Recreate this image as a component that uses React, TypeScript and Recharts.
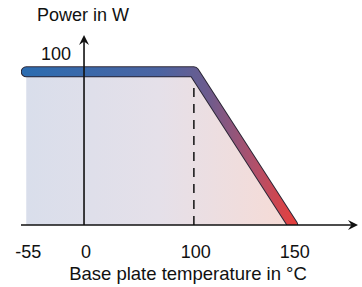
import React from 'react';
import { ComposedChart, Area, Line, XAxis, YAxis, ReferenceLine } from 'recharts';

// Data
const temperatures = [-55, 100, 150];
const powerValues = [100, 100, 0];
const xTickValues = [-55, 0, 100, 150];
const yLabelValue = 100;
const xTitle = 'Base plate temperature in °C';
const yTitle = 'Power in W';

const data = temperatures.map((t, i) => ({ t, p: powerValues[i] }));

// Segmented (schematic) x scale: the axis is compressed below the knee and
// stretched above it, like the original drawing.
const SEG_KNOTS = [-60, 0, 100, 183];
const SEG_FRACS = [0, 0.187, 0.513, 1];

function makeSegScale(dom0?: number[], rng0?: number[]): any {
  let dom = dom0 ? dom0.slice() : [SEG_KNOTS[0], SEG_KNOTS[SEG_KNOTS.length - 1]];
  let rng = rng0 ? rng0.slice() : [0, 1];
  const scale: any = (v: number) => {
    const k = SEG_KNOTS;
    let i = 0;
    while (i < k.length - 2 && v > k[i + 1]) i++;
    const t = (v - k[i]) / (k[i + 1] - k[i]);
    const f = SEG_FRACS[i] + t * (SEG_FRACS[i + 1] - SEG_FRACS[i]);
    return rng[0] + f * (rng[1] - rng[0]);
  };
  scale.domain = (d?: number[]) => {
    if (d === undefined) return dom.slice();
    dom = d.slice();
    return scale;
  };
  scale.range = (r?: number[]) => {
    if (r === undefined) return rng.slice();
    rng = r.slice();
    return scale;
  };
  scale.copy = () => makeSegScale(dom, rng);
  scale.ticks = () => xTickValues.slice();
  scale.tickFormat = () => (v: number) => String(v);
  return scale;
}
const segScale = makeSegScale();

const FONT = '"Liberation Sans", Arial, Helvetica, sans-serif';

const XTick = (props: any) => {
  const { x, y, payload } = props;
  return (
    <text x={x + 2} y={y + 33} textAnchor="middle" fontSize={18} fontFamily={FONT} fill="#111">
      {payload.value}
    </text>
  );
};

const ArrowX = (props: any) => {
  const { x1, x2, y1 } = props;
  const xs = Math.min(x1, x2);
  const xe = Math.max(x1, x2);
  return (
    <g>
      <line x1={xs} y1={y1} x2={xe - 4} y2={y1} stroke="#111" strokeWidth={1.6} />
      <path d={`M${xe},${y1} L${xe - 10},${y1 - 5} L${xe - 6.5},${y1} L${xe - 10},${y1 + 5} Z`} fill="#111" />
    </g>
  );
};

const ArrowY = (props: any) => {
  const { x1, y1, y2 } = props;
  const ytop = Math.min(y1, y2);
  const ybot = Math.max(y1, y2);
  return (
    <g>
      <line x1={x1} y1={ybot} x2={x1} y2={ytop + 4} stroke="#111" strokeWidth={1.6} />
      <path d={`M${x1},${ytop} L${x1 - 5},${ytop + 10} L${x1},${ytop + 6.5} L${x1 + 5},${ytop + 10} Z`} fill="#111" />
    </g>
  );
};

export default function App() {
  return (
    <div style={{ position: 'absolute', left: 0, top: 0, width: 362, height: 287 }}>
      <ComposedChart
        width={362}
        height={287}
        data={data}
        margin={{ top: 35, right: 4, bottom: 0, left: 21 }}
      >
        <defs>
          <linearGradient id="areaGrad" x1="0" y1="0" x2="1" y2="0">
            <stop offset="0%" stopColor="#d9deeb" />
            <stop offset="50%" stopColor="#e5e0e9" />
            <stop offset="100%" stopColor="#f7dbd5" />
          </linearGradient>
          <linearGradient id="lineGrad" x1="0" y1="0" x2="1" y2="0">
            <stop offset="0%" stopColor="#2c6cb0" />
            <stop offset="50%" stopColor="#4b64a2" />
            <stop offset="68%" stopColor="#6c5c8e" />
            <stop offset="86%" stopColor="#b2506a" />
            <stop offset="100%" stopColor="#e2403f" />
          </linearGradient>
        </defs>
        <XAxis
          dataKey="t"
          type="number"
          domain={[-60, 183]}
          scale={segScale}
          ticks={xTickValues}
          allowDataOverflow
          axisLine={false}
          tickLine={false}
          tickSize={0}
          tickMargin={0}
          height={62}
          tick={<XTick />}
          interval={0}
        />
        <YAxis type="number" domain={[0, 124]} hide allowDataOverflow />
        <Area
          dataKey="p"
          type="linear"
          stroke="none"
          fill="url(#areaGrad)"
          fillOpacity={1}
          baseValue={0}
          isAnimationActive={false}
        />
        <ReferenceLine
          segment={[{ x: 100, y: 0 }, { x: 100, y: 100 }]}
          stroke="#111"
          strokeWidth={1.5}
          strokeDasharray="9 7"
        />
        <Line
          dataKey="p"
          type="linear"
          stroke="#2b2636"
          strokeWidth={11}
          strokeLinecap="round"
          strokeLinejoin="round"
          dot={false}
          activeDot={false}
          isAnimationActive={false}
        />
        <Line
          dataKey="p"
          type="linear"
          stroke="url(#lineGrad)"
          strokeWidth={9}
          strokeLinecap="round"
          strokeLinejoin="round"
          dot={false}
          activeDot={false}
          isAnimationActive={false}
        />
        <ReferenceLine y={0} shape={<ArrowX />} />
        <ReferenceLine x={0} shape={<ArrowY />} />
      </ComposedChart>
      <svg
        width={362}
        height={287}
        style={{ position: 'absolute', left: 0, top: 0, pointerEvents: 'none' }}
      >
        <text x={83} y={21} textAnchor="middle" fontSize={18} fontFamily={FONT} fill="#111">
          {yTitle}
        </text>
        <text x={71} y={60} textAnchor="end" fontSize={18} fontFamily={FONT} fill="#111">
          {yLabelValue}
        </text>
        <text x={188} y={280} textAnchor="middle" fontSize={18.5} fontFamily={FONT} fill="#111">
          {xTitle}
        </text>
      </svg>
    </div>
  );
}
